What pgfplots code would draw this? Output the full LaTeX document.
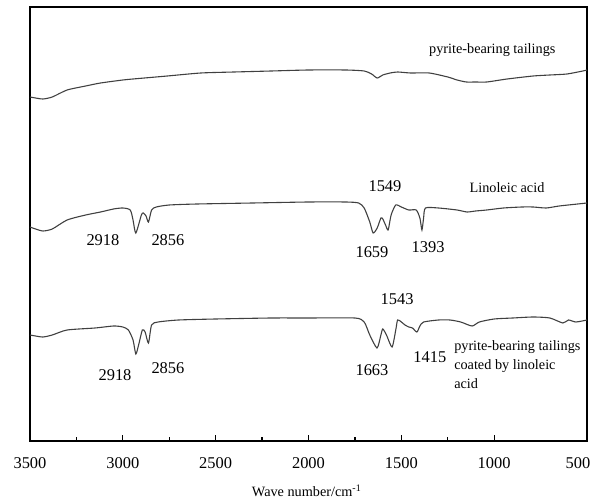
\documentclass[border=0pt]{standalone}
\usepackage{fontspec}
\setmainfont{Liberation Serif}
\usepackage{pgfplots}
\pgfplotsset{compat=1.18}

% y values are the negative pixel heights
\pgfplotstableread{
wn y
3500 -97
3470 -98
3430 -99
3380 -97
3300 -90
3200 -86
3120 -83
3000 -80
2945 -79
2760 -76
2580 -73
2400 -72
2200 -71
2000 -70
1800 -70
1700 -71
1660 -74
1630 -78
1600 -75
1560 -73
1520 -72
1450 -73
1350 -73
1250 -77
1200 -80
1150 -82
1100 -82
1040 -82
930 -79
790 -76
700 -75
608 -74
522 -71
500 -70
}\tailings

\pgfplotstableread{
wn y
3500 -227
3470 -229
3430 -231
3380 -229
3300 -220
3200 -215
3120 -212
3050 -209
3000 -208
2960 -210
2945 -220
2930 -233
2900 -215
2890 -213
2875 -216
2862 -222
2845 -210
2820 -207
2750 -205
2600 -204
2300 -203
2000 -202
1800 -202
1730 -203
1700 -208
1670 -222
1652 -233
1630 -228
1610 -218
1600 -219
1585 -225
1571 -230
1555 -215
1530 -205
1500 -207
1460 -210
1420 -210
1400 -218
1389 -230
1380 -218
1370 -208
1300 -208
1200 -210
1146 -212
1100 -211
1040 -210
950 -208
850 -207
790 -207
720 -208
650 -206
550 -204
500 -203
}\linoleic

\pgfplotstableread{
wn y
3500 -335
3470 -336
3430 -337
3380 -335
3300 -330
3150 -328
3050 -326
3000 -327
2970 -330
2945 -340
2930 -354
2915 -345
2895 -330
2880 -332
2862 -343
2845 -325
2810 -322
2700 -320
2500 -319
2200 -318
2000 -318
1750 -318
1700 -322
1670 -335
1631 -348
1610 -335
1600 -329
1580 -335
1550 -347
1530 -330
1520 -320
1500 -322
1480 -325
1460 -327
1440 -328
1416 -332
1400 -326
1380 -322
1300 -320
1238 -320
1180 -322
1119 -326
1080 -322
1000 -319
900 -318
790 -317
700 -318
630 -323
600 -320
560 -322
500 -320
}\coated

\tikzset{
	pk/.style={font=\fontsize{16.5}{18}\selectfont},
	lbl/.style={font=\fontsize{14.3}{19.5}\selectfont},
}

\begin{document}
\begin{tikzpicture}
\begin{axis}[
	name=ax,
	scale only axis,
	width=557bp, height=434bp,
	x dir=reverse,
	xmin=500, xmax=3500,
	ymin=-441, ymax=-7,
	xtick={1000,1500,...,3500},
	extra x ticks={500},
	extra x tick style={xticklabel style={xshift=-9bp}},
	minor x tick num=1,
	ytick=\empty,
	xtick pos=bottom,
	tick align=inside,
	major tick length=6bp,
	minor tick length=4bp,
	axis line style={line width=1.3pt},
	every tick/.style={line width=1.3pt, black},
	/pgf/number format/assume math mode=true,
	/pgf/number format/1000 sep={},
	xticklabel style={font=\fontsize{16.5}{18}\selectfont, yshift=-13bp},
	clip=false,
	]

\addplot [black!75, line width=1.1pt, smooth, tension=0.4] table [x=wn, y=y] {\tailings};
\addplot [black!75, line width=1.1pt, smooth, tension=0.4] table [x=wn, y=y] {\linoleic};
\addplot [black!75, line width=1.1pt, smooth, tension=0.4] table [x=wn, y=y] {\coated};

% curve labels
\node [lbl] at (axis cs:1010,-50) {pyrite-bearing tailings};
\node [lbl] at (axis cs:931,-188) {Linoleic acid};
\node [lbl, anchor=north west, align=left, inner sep=0pt]
	at (axis cs:1216,-340) {pyrite-bearing tailings\\coated by linoleic\\acid};

% peak labels
\node [pk] at (axis cs:1588,-186) {1549};
\node [pk] at (axis cs:3107,-240) {2918};
\node [pk] at (axis cs:2757,-240) {2856};
\node [pk] at (axis cs:1658,-252) {1659};
\node [pk] at (axis cs:1356,-247) {1393};
\node [pk] at (axis cs:1523,-299) {1543};
\node [pk] at (axis cs:1658,-370) {1663};
\node [pk] at (axis cs:1346,-357) {1415};
\node [pk] at (axis cs:3042,-375) {2918};
\node [pk] at (axis cs:2757,-368) {2856};

% axis title
\node [font=\fontsize{14.3}{16}\selectfont] at (axis cs:2010,-491) {Wave number/cm\textsuperscript{-1}};
\end{axis}
\pgfresetboundingbox
\path ([shift={(-30bp,-59bp)}]ax.south west) rectangle ([shift={(6bp,7bp)}]ax.north east);
\end{tikzpicture}
\end{document}
